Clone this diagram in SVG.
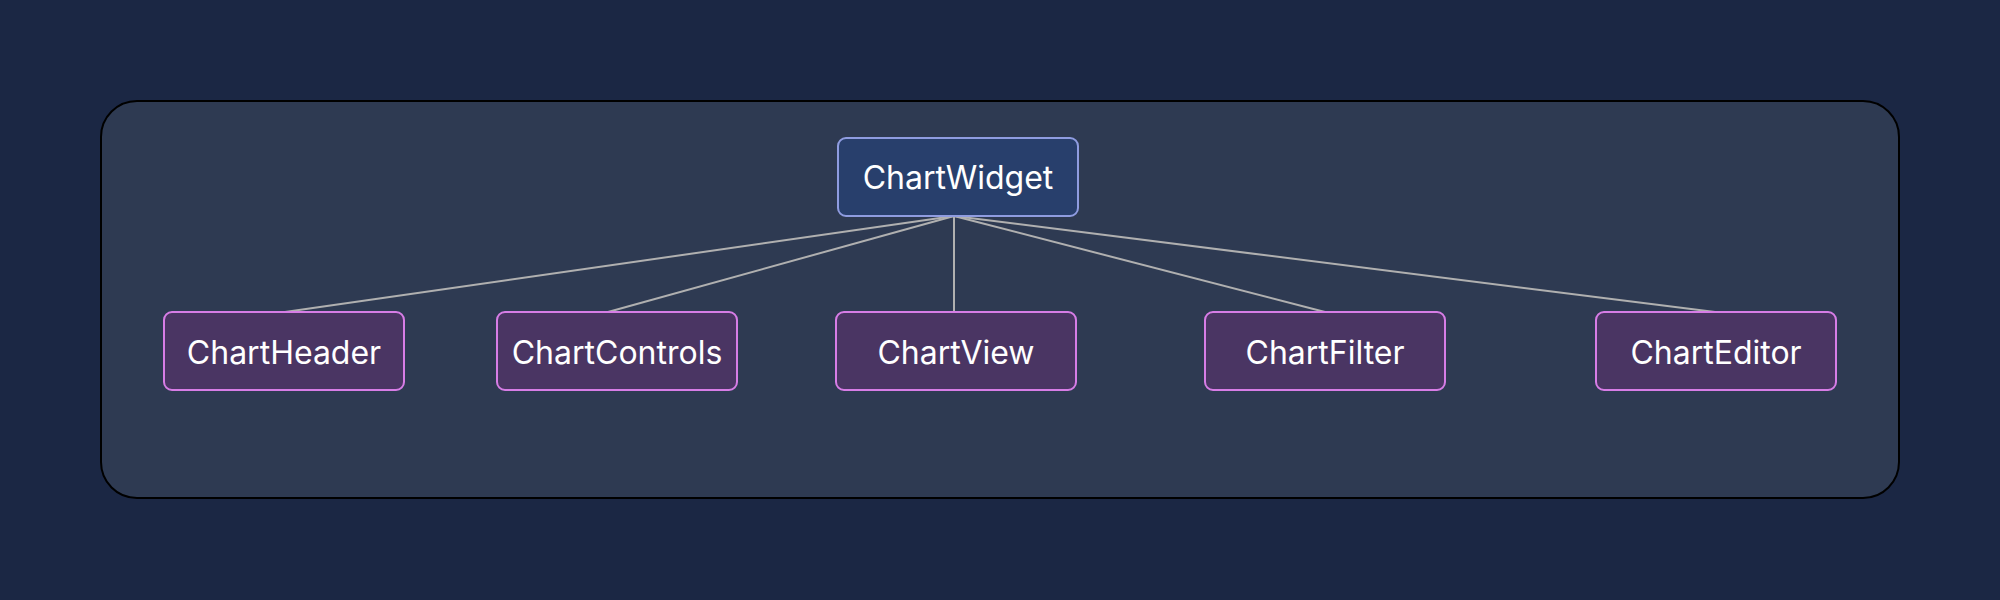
<svg xmlns="http://www.w3.org/2000/svg" width="2000" height="600" viewBox="0 0 2000 600">
<style>
.bg{fill:#1b2744}
.container{fill:#2e3a52;stroke:#000;stroke-width:2}
.root rect{fill:#283f6c;stroke:#8f9ce0;stroke-width:2}
.child rect{fill:#4a3563;stroke:#d77de6;stroke-width:2}
text{font-family:Inter,"Noto Sans",sans-serif;font-size:32px;font-weight:400;fill:#ffffff;text-anchor:middle;dominant-baseline:central}
.edges line{stroke:#b0b0b0;stroke-width:2}
</style>
<rect class="bg" x="0" y="0" width="2000" height="600"/>
<rect class="container" x="101" y="101" width="1798" height="397" rx="36"/>
<g class="edges">
<line x1="954" y1="216" x2="285" y2="312"/>
<line x1="954" y1="216" x2="608" y2="312"/>
<line x1="954" y1="216" x2="954" y2="312"/>
<line x1="954" y1="216" x2="1325" y2="312"/>
<line x1="954" y1="216" x2="1715" y2="312"/>
</g>
<g id="ChartWidget" class="root"><rect x="838" y="138" width="240" height="78" rx="8"/><text x="958" y="177">ChartWidget</text></g>
<g id="ChartHeader" class="child"><rect x="164" y="312" width="240" height="78" rx="8"/><text x="284" y="352">ChartHeader</text></g>
<g id="ChartControls" class="child"><rect x="497" y="312" width="240" height="78" rx="8"/><text x="617" y="352">ChartControls</text></g>
<g id="ChartView" class="child"><rect x="836" y="312" width="240" height="78" rx="8"/><text x="956" y="352">ChartView</text></g>
<g id="ChartFilter" class="child"><rect x="1205" y="312" width="240" height="78" rx="8"/><text x="1325" y="352">ChartFilter</text></g>
<g id="ChartEditor" class="child"><rect x="1596" y="312" width="240" height="78" rx="8"/><text x="1716" y="352">ChartEditor</text></g>
</svg>
